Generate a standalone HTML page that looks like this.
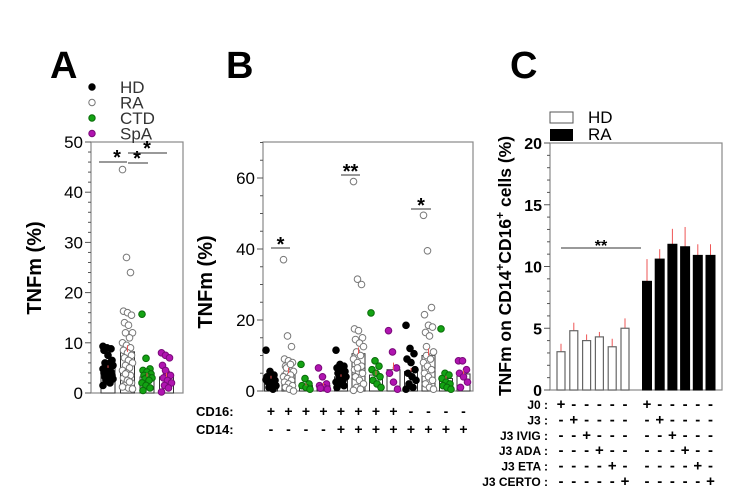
<!DOCTYPE html>
<html><head><meta charset="utf-8">
<style>
html,body{margin:0;padding:0;background:#fff;}
svg{display:block;font-family:"Liberation Sans",Arial,sans-serif;}
</style></head>
<body>
<svg id="fig" width="732" height="493" viewBox="0 0 732 493" xmlns="http://www.w3.org/2000/svg">
<text x="50" y="78" font-size="38" font-weight="bold">A</text>
<text x="226" y="78" font-size="38" font-weight="bold">B</text>
<text x="510" y="78" font-size="38" font-weight="bold">C</text>
</svg>
<script>
// ---------- DATA ----------
const groupNamesA = ["HD","RA","CTD","SpA"];
const barMeansA = [5.0, 8.2, 3.2, 3.2];
const barErrA = [0.5, 1.3, 0.8, 0.8];
const hdA = [9.3,9.0,8.8,8.5,7.5,6.5,6,5.8,5.5,5.2,5,4.8,4.5,4.2,4,3.8,3.5,3.2,3,2.8,2.5,2,1.5,5.5,6.2];
const raA = [44.5,27,24,16.3,16,15.5,14,13.5,12,12,11,10,9.5,9,8.5,8,7.5,7,6.5,6,5.5,5,4.5,4,3.5,3,2.5,2,1.5,1,0.8,3.8,2.2,1.2];
const ctdA = [15.7,6.9,4.8,4.5,4.2,3.8,3.5,3.2,3,2.8,2.5,2,1.5,1,0.5];
const spaA = [8,7.5,7,5.5,4,3.5,3,2.5,2,1.5,1,0.2,4.5];
const ticksA = [0,10,20,30,40,50];

const cd16Signs = ["+","+","+","+","+","+","+","+","-","-","-","-"];
const cd14Signs = ["-","-","-","-","+","+","+","+","+","+","+","+"];
const barMeansB = [3.5,5,1.5,1.5,4,10.5,4.5,6,5.5,10,3.5,4.8];
const barErrB = [0.8,1.5,0.6,0.8,0.7,1.8,1.2,2,1,2,0.8,1];
const groupTypeB = [0,1,2,3,0,1,2,3,0,1,2,3];
const ptsB0 = [11.5,5.5,4.5,4,3.5,3,2.5,2,1.5,1,0.5,3.2,2.2];
const ptsB1 = [37,15.5,12.5,9,8.5,8,7,6,5.5,5,4.5,4,3.5,3,2.5,2,1.5,1,0.5,0,6.5,7.5];
const ptsB2 = [7.5,3.5,2,1.5,1,0.5];
const ptsB3 = [6.5,4,2,1.5,1,0.5,0.8];
const ptsB4 = [11.5,7.5,7,6.5,6,5.5,5,4.5,4,3.5,3,2.5,2,1.5,1];
const ptsB5 = [59,31.5,30,17.5,17,15,14.5,13.5,12.5,11,10,9,8,7,6,5.5,5,4,3,2,1,0.5,0.2,6.5];
const ptsB6 = [22,8.5,7,6,5,4,3,2,1];
const ptsB7 = [17,11,6.5,5,2.5,0.5];
const ptsB8 = [18.5,12,10.5,9,8,6,5,4,3,2,1,0.5];
const ptsB9 = [49.5,39.5,23.5,21.5,18.5,18,16.5,15.5,11,10,9,8,7,6,5,4,3,2,1,0.5,12.5];
const ptsB10 = [17.5,5,4.5,3.5,2.5,2,1.5,1,0.5];
const ptsB11 = [8.5,8.5,6,5,4,2.5,1];
const ticksB = [0,20,40,60];

const barsHD_C = [3.1,4.8,4.0,4.3,3.5,5.0];
const errHD_C = [0.65,0.65,0.5,0.4,0.65,0.8];
const barsRA_C = [8.8,10.6,11.8,11.6,10.9,10.9];
const errRA_C = [1.8,0.8,1.25,1.6,0.9,0.9];
const rowLabelsC = ["J0","J3","J3 IVIG","J3 ADA","J3 ETA","J3 CERTO"];
const ticksC = [0,5,10,15,20];

// ---------- HELPERS ----------
const svg = document.getElementById('fig');
const NS = "http://www.w3.org/2000/svg";
function mk(tag, attrs, parent){
  const e = document.createElementNS(NS, tag);
  for (const k in attrs) e.setAttribute(k, attrs[k]);
  (parent||svg).appendChild(e);
  return e;
}
function txt(x,y,s,size,anchor,weight){
  const t = mk('text',{x:x,y:y,'font-size':size,'text-anchor':anchor||'start','font-weight':weight||'normal'});
  t.textContent = s;
  return t;
}
function jitter(i){ return ((i*37)%11 - 5)/5; }

// ---------- PANEL A ----------
const aX0=91, aX1=183, aY0=393, aY1=142, aMax=50;
const yA = v => aY0 - v/aMax*(aY0-aY1);
const xA = i => 108 + i*19.5;
let el = mk('rect',{x:aX0,y:aY1,width:aX1-aX0,height:aY0-aY1,fill:'none',stroke:'#888','stroke-width':1.2});


for (let v=0; v<=aMax; v+=2){
  const len = (v%10===0)?6:3;
  el = mk('line',{x1:aX0-len,x2:aX0,y1:yA(v),y2:yA(v),stroke:'#555','stroke-width':1});
  
  
}
ticksA.forEach(v=>{
  el = txt(aX0-8, yA(v)+6, String(v), 17, 'end');
  
  
});
el = txt(0,0,'TNFm (%)',20,'middle','bold');
el.setAttribute('transform','translate(41,268) rotate(-90)');


const ptsA = [hdA, raA, ctdA, spaA];
const fillsA = ['#000','#fff','#13a313','#b014b0'];
const strokesA = ['#000','#777','#0a6a0a','#7a0a7a'];
barMeansA.forEach((m,i)=>{
  el = mk('rect',{x:xA(i)-7,y:yA(m),width:14,height:aY0-yA(m),fill:'#fff',stroke:'#333','stroke-width':1});
  
  
  ptsA[i].forEach((v,j)=>{
    el = mk('circle',{cx:xA(i)+jitter(j)*5,cy:yA(v),r:3.3,fill:fillsA[i],stroke:strokesA[i],'stroke-width':1});
    
    
  });
  el = mk('line',{x1:xA(i),x2:xA(i),y1:yA(m),y2:yA(m+barErrA[i]),stroke:'#e55','stroke-width':1});
  
  
});
[[99,127,162,117],[128,148,163,137],[128,167,153,147]].forEach(s=>{
  el = mk('line',{x1:s[0],x2:s[1],y1:s[2],y2:s[2],stroke:'#333','stroke-width':1});
  
  
  el = txt(s[3], s[2]+2, '*', 20, 'middle','bold');
  
  
});
groupNamesA.forEach((n,i)=>{
  const y = 87 + i*15.5;
  el = mk('circle',{cx:92,cy:y,r:3.2,fill:fillsA[i],stroke:strokesA[i],'stroke-width':1});
  
  
  el = txt(120, y+6, n, 17, 'start');
  el.setAttribute('fill','#333');
  
  
});

// ---------- PANEL B ----------
const bX0=263, bX1=473, bY0=391, bMax=60, bTop=142;
const yB = v => bY0 - v/bMax*(bY0-178);
const xB = i => 271 + i*17.5;
el = mk('rect',{x:bX0,y:bTop,width:bX1-bX0,height:bY0-bTop,fill:'none',stroke:'#888','stroke-width':1.2});


for (let v=0; v<=70; v+=5){
  if (yB(v) < bTop-1) break;
  const len = (v%20===0)?6:3;
  el = mk('line',{x1:bX0-len,x2:bX0,y1:yB(v),y2:yB(v),stroke:'#555','stroke-width':1});
  
  
}
ticksB.forEach(v=>{
  el = txt(bX0-8, yB(v)+6, String(v), 17, 'end');
  
  
});
el = txt(0,0,'TNFm (%)',20,'middle','bold');
el.setAttribute('transform','translate(212,282) rotate(-90)');


const ptsB = [ptsB0,ptsB1,ptsB2,ptsB3,ptsB4,ptsB5,ptsB6,ptsB7,ptsB8,ptsB9,ptsB10,ptsB11];
barMeansB.forEach((m,i)=>{
  const g = groupTypeB[i];
  el = mk('rect',{x:xB(i)-6.5,y:yB(m),width:13,height:bY0-yB(m),fill:'#fff',stroke:'#333','stroke-width':1});
  
  
  ptsB[i].forEach((v,j)=>{
    el = mk('circle',{cx:xB(i)+jitter(j)*5,cy:yB(v),r:3.3,fill:fillsA[g],stroke:strokesA[g],'stroke-width':1});
    
    
  });
  el = mk('line',{x1:xB(i),x2:xB(i),y1:yB(m),y2:yB(m+barErrB[i]),stroke:'#e55','stroke-width':1});
  
  
  el = txt(xB(i), 416, cd16Signs[i], 14, 'middle','bold');
  
  
  el = txt(xB(i), 434, cd14Signs[i], 14, 'middle','bold');
  
  
});
el = txt(196,416,'CD16:',13,'start','bold');


el = txt(196,434,'CD14:',13,'start','bold');


[[271,290,248,'*'],[341,360,175,'**'],[411,431,209,'*']].forEach(s=>{
  el = mk('line',{x1:s[0],x2:s[1],y1:s[2],y2:s[2],stroke:'#333','stroke-width':1});
  
  
  el = txt((s[0]+s[1])/2, s[2]+3, s[3], 20, 'middle','bold');
  
  
});

// ---------- PANEL C ----------
const cX0=550, cX1=722, cY0=390, cY1=143, cMax=20;
const yC = v => cY0 - v/cMax*(cY0-cY1);
const xHD = i => 561 + i*12.8;
const xRA = i => 647 + i*12.7;
el = mk('rect',{x:cX0,y:cY1,width:cX1-cX0,height:cY0-cY1,fill:'none',stroke:'#888','stroke-width':1.2});


for (let v=0; v<=cMax; v+=1){
  const len = (v%5===0)?6:3;
  el = mk('line',{x1:cX0-len,x2:cX0,y1:yC(v),y2:yC(v),stroke:'#555','stroke-width':1});
  
  
}
ticksC.forEach(v=>{
  el = txt(cX0-8, yC(v)+6, String(v), 16, 'end','bold');
  
  
});
el = mk('text',{'font-size':17.5,'font-weight':'bold','text-anchor':'middle',transform:'translate(511,266) rotate(-90)'});
el.innerHTML = 'TNFm on CD14<tspan baseline-shift="super" font-size="12">+</tspan>CD16<tspan baseline-shift="super" font-size="12">+</tspan> cells (%)';


barsHD_C.forEach((v,i)=>{
  el = mk('line',{x1:xHD(i),x2:xHD(i),y1:yC(v),y2:yC(v+errHD_C[i]),stroke:'#e55','stroke-width':1});
  
  
  el = mk('rect',{x:xHD(i)-4,y:yC(v),width:8,height:cY0-yC(v),fill:'#fff',stroke:'#666','stroke-width':1.2});
  
  
});
barsRA_C.forEach((v,i)=>{
  el = mk('line',{x1:xRA(i),x2:xRA(i),y1:yC(v),y2:yC(v+errRA_C[i]),stroke:'#e55','stroke-width':1});
  
  
  el = mk('rect',{x:xRA(i)-4.5,y:yC(v),width:9,height:cY0-yC(v),fill:'#000',stroke:'#000','stroke-width':1});
  
  
});
el = mk('line',{x1:561,x2:641,y1:248,y2:248,stroke:'#333','stroke-width':1});


el = txt(601,251,'**',16,'middle','bold');


el = mk('rect',{x:550,y:112,width:23,height:11,fill:'#fff',stroke:'#555','stroke-width':1});


el = txt(588,123,'HD',17,'start');


el = mk('rect',{x:550,y:129,width:23,height:12,fill:'#000'});


el = txt(588,140,'RA',17,'start');


rowLabelsC.forEach((lab,r)=>{
  const y = 409 + r*15.4;
  el = txt(548, y, lab+' :', 12, 'end','bold');
  
  
  for (let i=0;i<6;i++){
    const s = (i===r)?'+':'-';
    el = txt(xHD(i), y, s, 15, 'middle','bold');
    
    
    el = txt(xRA(i), y, s, 15, 'middle','bold');
    
    
  }
});
</script>
</body></html>
